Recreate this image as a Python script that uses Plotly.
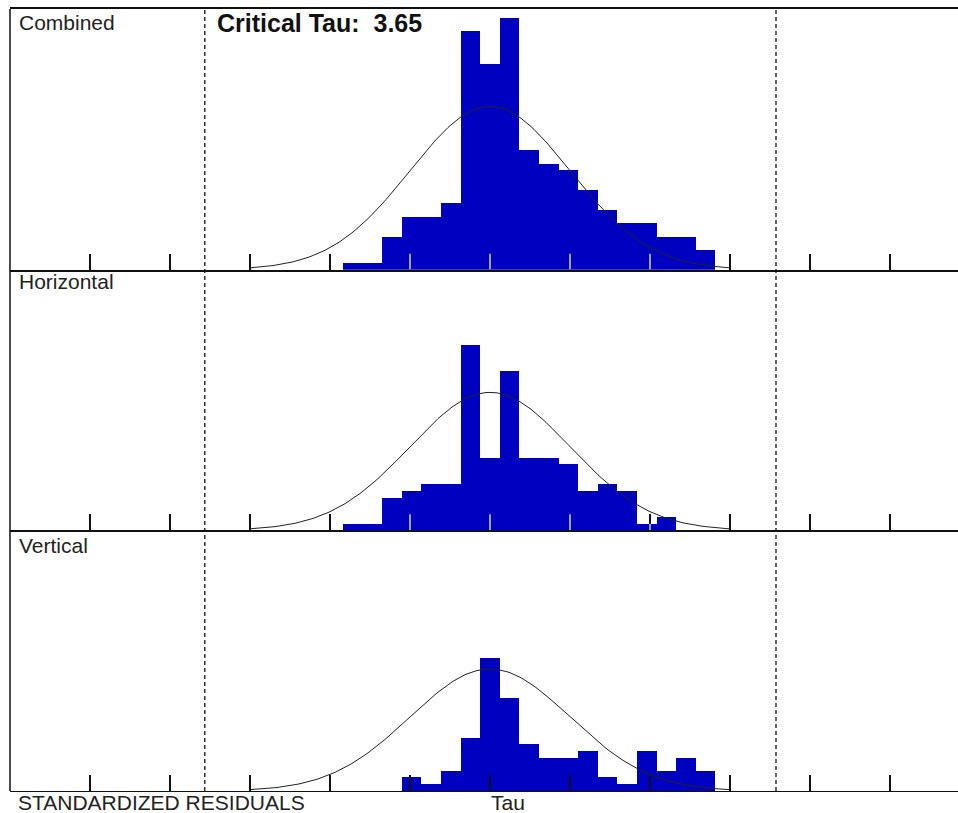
import numpy as np
import plotly.graph_objects as go
from plotly.subplots import make_subplots

# ---- data -------------------------------------------------------------
BIN_CENTERS = [-1.715, -1.47, -1.225, -0.98, -0.735, -0.49, -0.245, 0.0, 0.245,
               0.49, 0.735, 0.98, 1.225, 1.47, 1.715, 1.96, 2.205, 2.45, 2.695]
BIN_WIDTH = 0.245

COMBINED   = [1, 1, 5, 8, 8, 10, 36, 31, 38, 18, 16, 15, 12, 9, 7, 7, 5, 5, 3]
HORIZONTAL = [1, 1, 5, 6, 7, 7, 28, 11, 24, 11, 11, 10, 6, 7, 6, 1, 2, 0, 0]
VERTICAL   = [0, 0, 0, 2, 1, 3, 8, 20, 14, 7, 5, 5, 6, 2, 1, 6, 3, 5, 3]

PANEL_NAMES = ["Combined", "Horizontal", "Vertical"]
# normal-curve peak heights (in counts) for each panel, mean 0, sd 1
CURVE_PEAKS = [24.6, 20.8, 18.4]
CURVE_MEAN = 0.0
CURVE_SD = 1.0

TICK_VALUES = [-5, -4, -3, -2, -1, 0, 1, 2, 3, 4, 5]
CRIT_LINES = [-3.565, 3.575]
CRITICAL_TAU_LABEL = "<b>Critical Tau:  3.65</b>"

# ---- figure -----------------------------------------------------------
W, H = 958, 813
ML, MR, MT, MB = 10, 0, 9, 22
X_RANGE = [-6, 5.85]
PW, PH = W - ML - MR, H - MT - MB
Y_MAX = 39.3
BAR_COLOR = "#0000C0"
FONT = "Liberation Sans, Arial, sans-serif"

fig = make_subplots(rows=3, cols=1, shared_xaxes=True, vertical_spacing=0)

series = [COMBINED, HORIZONTAL, VERTICAL]
xs = np.linspace(-3, 3, 241)
for i, (vals, peak) in enumerate(zip(series, CURVE_PEAKS)):
    r = i + 1
    fig.add_trace(go.Bar(x=BIN_CENTERS, y=vals, width=BIN_WIDTH,
                         marker=dict(color=BAR_COLOR, line=dict(width=0)),
                         showlegend=False, hoverinfo="skip"), row=r, col=1)
    ys = peak * np.exp(-0.5 * ((xs - CURVE_MEAN) / CURVE_SD) ** 2)
    fig.add_trace(go.Scatter(x=xs, y=ys, mode="lines",
                             line=dict(color="#222222", width=1),
                             showlegend=False, hoverinfo="skip"), row=r, col=1)

tick_len_px = 16
counts_per_px = Y_MAX / (PH / 3)
tick_len_counts = tick_len_px * counts_per_px

shapes = []
# light tick segments over the bars (panels 1 and 2)
for i in (0, 1):
    vals = series[i]
    yref = "y" if i == 0 else "y2"
    xref = "x" if i == 0 else "x2"
    for t in TICK_VALUES:
        h = 0
        for c, v in zip(BIN_CENTERS, vals):
            if c - BIN_WIDTH / 2 <= t < c + BIN_WIDTH / 2:
                h = v
        if h > 0:
            shapes.append(dict(type="line", xref=xref, yref=yref, x0=t, x1=t,
                               y0=0, y1=min(h, tick_len_counts),
                               line=dict(color="#d4d4e4", width=1.5), layer="above"))

for xc in CRIT_LINES:
    shapes.append(dict(type="line", xref="x3", yref="paper", x0=xc, x1=xc, y0=0, y1=1,
                       line=dict(color="#111111", width=1.3, dash="4px,3px"), layer="above"))

# left frame line
shapes.append(dict(type="line", xref="paper", yref="paper", x0=0, x1=0, y0=0, y1=1,
                   line=dict(color="#111111", width=1.5), layer="above"))

for r in (1, 2, 3):
    fig.update_xaxes(row=r, col=1, range=X_RANGE, tickvals=TICK_VALUES,
                     ticks="inside", ticklen=tick_len_px, tickwidth=1.5, tickcolor="#111111",
                     showline=True, linecolor="#111111",
                     linewidth=2.2 if r < 3 else 1.3,
                     showgrid=False, zeroline=False, showticklabels=False,
                     layer="below traces" if r < 3 else "above traces",
                     mirror=True if r == 1 else False)
    fig.update_yaxes(row=r, col=1, range=[0, Y_MAX], showline=False,
                     showgrid=False, zeroline=False, showticklabels=False, ticks="")


def px(xp):
    return (xp - ML) / PW


def py(yp):
    return (H - MB - yp) / PH


annotations = []
label_y = [22.5, 282, 545]
for name, yy in zip(PANEL_NAMES, label_y):
    annotations.append(dict(text=name, xref="paper", yref="paper", x=px(17), y=py(yy),
                            xanchor="left", yanchor="middle", showarrow=False,
                            font=dict(family=FONT, size=21, color="#222222")))
annotations.append(dict(text=CRITICAL_TAU_LABEL, xref="paper", yref="paper",
                        x=px(215), y=py(23.5), xanchor="left", yanchor="middle",
                        showarrow=False,
                        font=dict(family=FONT, size=25, color="#111111")))
annotations.append(dict(text="STANDARDIZED RESIDUALS", xref="paper", yref="paper",
                        x=px(16), y=py(802.5), xanchor="left", yanchor="middle",
                        showarrow=False, font=dict(family=FONT, size=21, color="#222222")))
annotations.append(dict(text="Tau", xref="paper", yref="paper",
                        x=px(489), y=py(802.5), xanchor="left", yanchor="middle",
                        showarrow=False, font=dict(family=FONT, size=21, color="#222222")))

fig.update_layout(width=W, height=H, margin=dict(l=ML, r=MR, t=MT, b=MB),
                  paper_bgcolor="white", plot_bgcolor="white",
                  bargap=0, barmode="overlay", showlegend=False,
                  shapes=shapes, annotations=annotations)

# remove the default page margin so the figure fills the window exactly
fig.write_html("out.html",
               config={"displayModeBar": False},
               post_script="document.body.style.margin='0';"
                           "document.body.style.overflow='hidden';")
